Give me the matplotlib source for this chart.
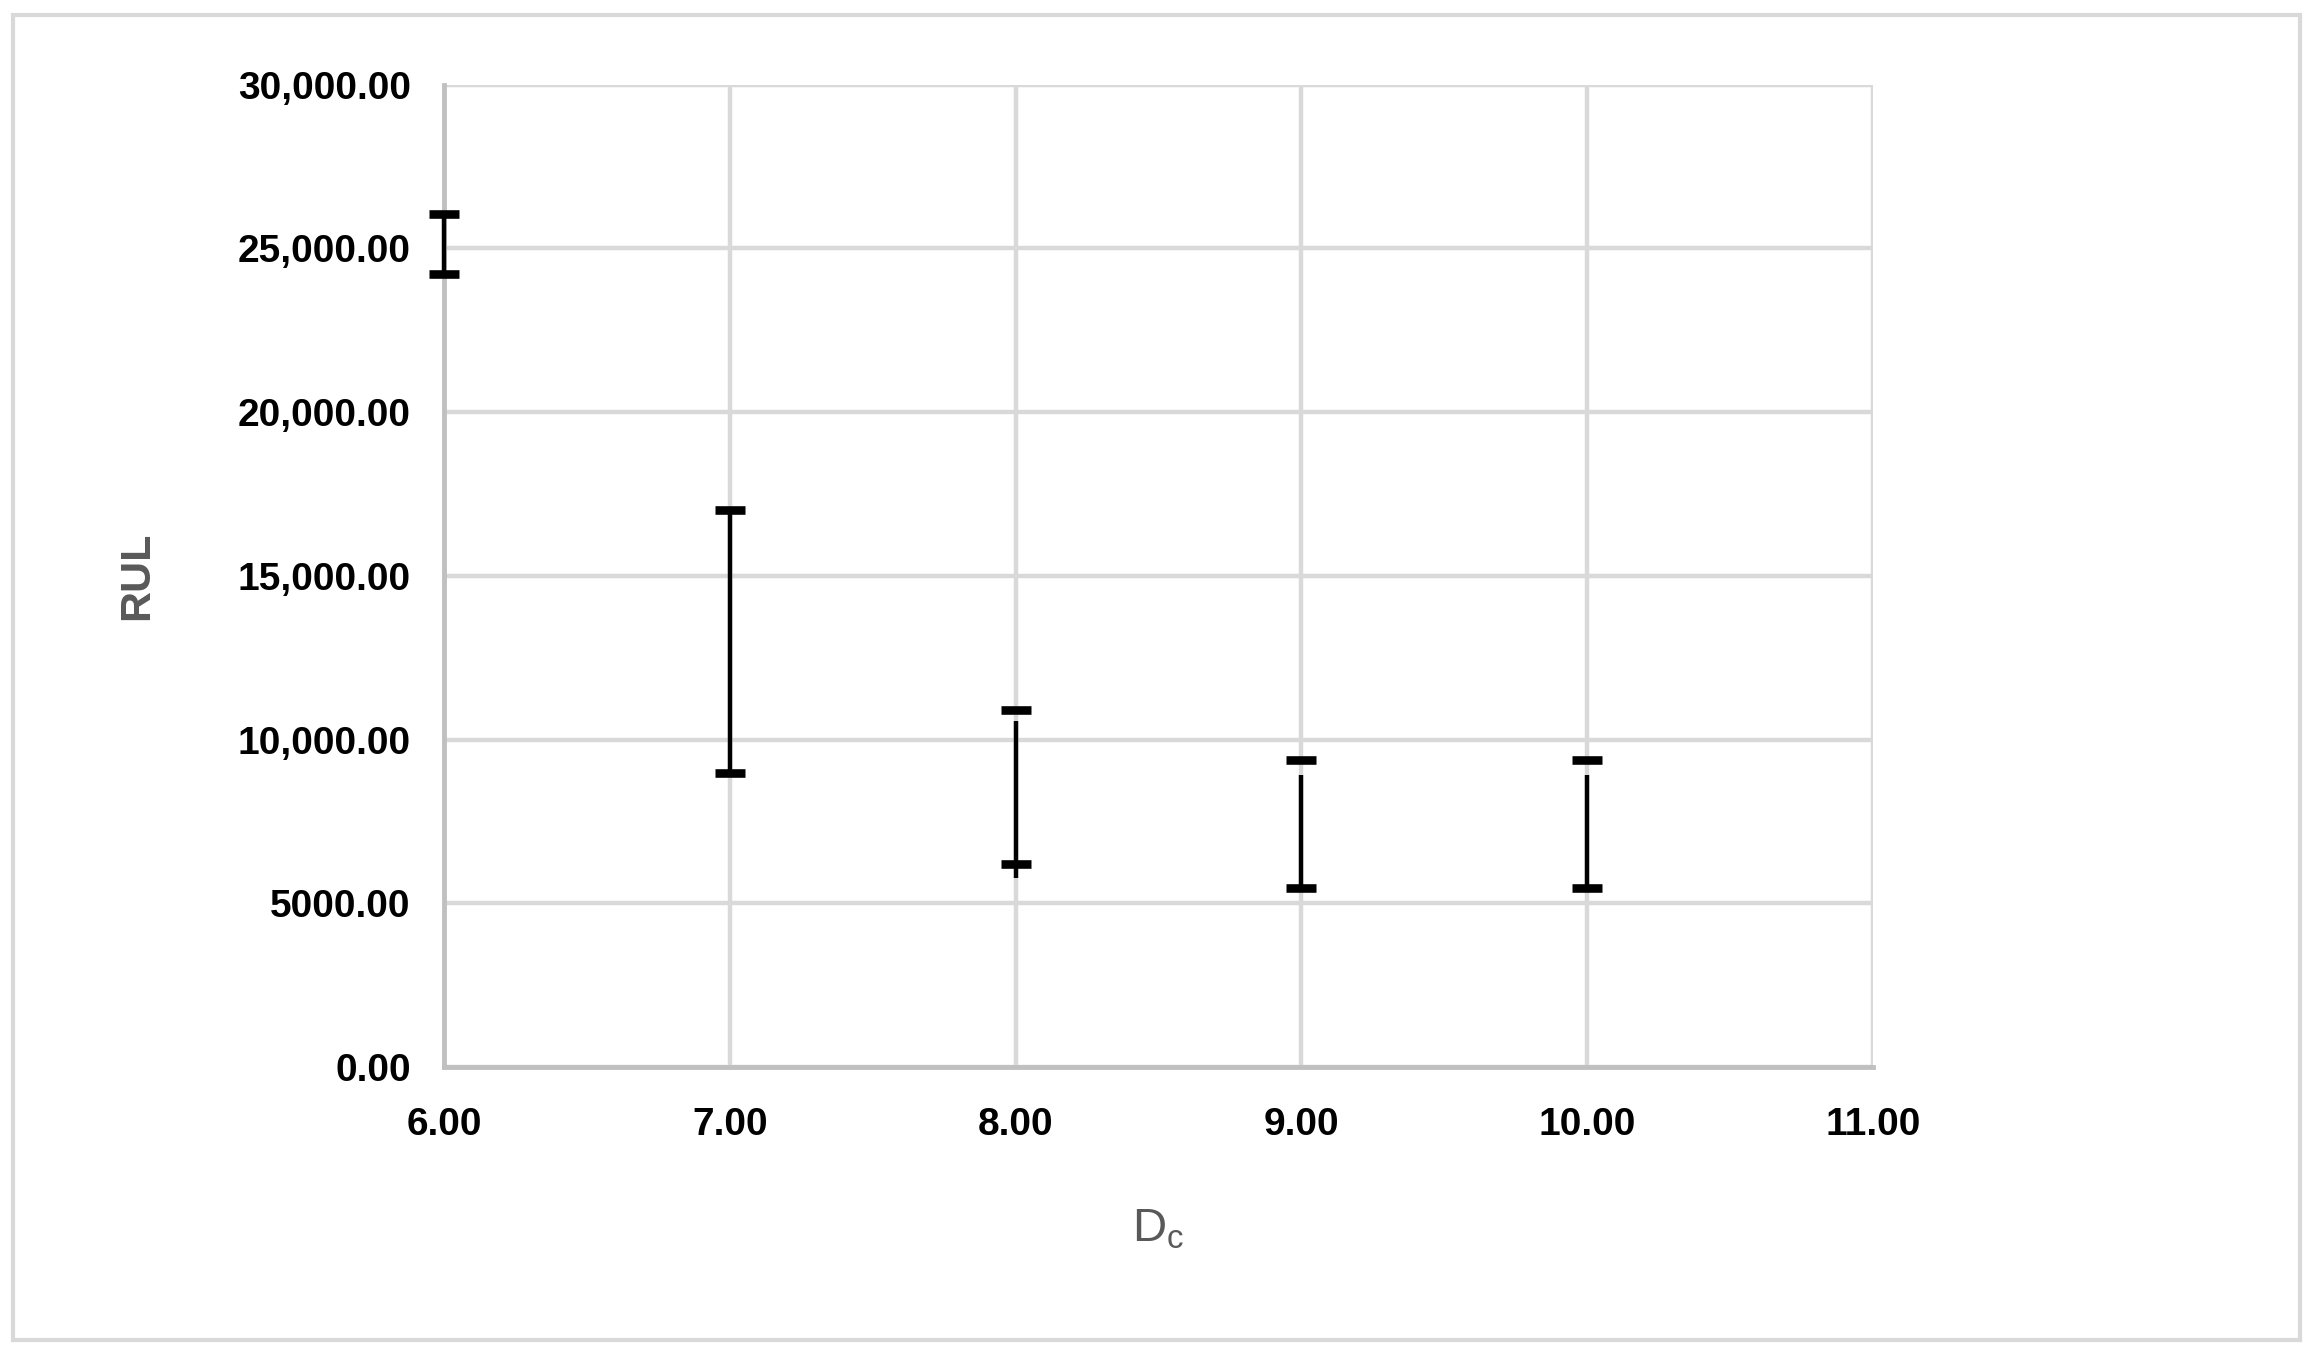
import matplotlib.pyplot as plt
from matplotlib.patches import Rectangle

# Dc values and RUL error bar ranges
dc = [6, 7, 8, 9, 10]
cap_high = [26040, 17020, 10900, 9380, 9380]
cap_low = [24220, 8990, 6190, 5480, 5480]
stem_high = [26040, 17020, 10580, 8920, 8920]
stem_low = [24220, 8990, 5780, 5480, 5480]

y_ticks = [0, 5000, 10000, 15000, 20000, 25000, 30000]
y_tick_labels = ["0.00", "5000.00", "10,000.00", "15,000.00", "20,000.00", "25,000.00", "30,000.00"]
x_ticks = [6, 7, 8, 9, 10, 11]
x_tick_labels = ["6.00", "7.00", "8.00", "9.00", "10.00", "11.00"]

plt.rcParams['font.family'] = ['Liberation Sans', 'DejaVu Sans']

fig = plt.figure(figsize=(23.2, 13.57), dpi=100)
ax = fig.add_axes([0.1914, 0.2137, 0.6159, 0.724])

# outer chart frame
fig.patches.append(Rectangle((0.0056, 0.0125), 0.9858, 0.9765, transform=fig.transFigure,
                             fill=False, edgecolor='#d9d9d9', linewidth=3))

ax.vlines(dc, stem_low, stem_high, color='black', linewidth=3.2, zorder=3, clip_on=False)
ax.plot(dc, cap_high, ls='none', marker='_', ms=22, mew=6.2, color='black', zorder=4, clip_on=False)
ax.plot(dc, cap_low, ls='none', marker='_', ms=22, mew=6.2, color='black', zorder=4, clip_on=False)

ax.set_xlim(6, 11)
ax.set_ylim(0, 30000)
ax.set_xticks(x_ticks)
ax.set_xticklabels(x_tick_labels)
ax.set_yticks(y_ticks)
ax.set_yticklabels(y_tick_labels)
ax.tick_params(axis='both', length=0, labelsize=28)
ax.tick_params(axis='x', pad=29)
ax.tick_params(axis='y', pad=24)
for lbl in ax.get_xticklabels() + ax.get_yticklabels():
    lbl.set_fontweight('bold')

ax.grid(True, color='#d9d9d9', linewidth=3.2)
ax.set_axisbelow(True)
for s in ['top', 'right']:
    ax.spines[s].set_visible(False)
for s in ['left', 'bottom']:
    ax.spines[s].set_color('#c0c0c0')
    ax.spines[s].set_linewidth(3.5)

ax.set_xlabel(r'D$_\mathregular{c}$', fontsize=34, color='#595959')
ax.xaxis.set_label_coords(0.5, -0.143)
ax.set_ylabel('RUL', fontsize=31, fontweight='bold', color='#595959')
ax.yaxis.set_label_coords(-0.201, 0.5)

fig.savefig('out.png', dpi=100)
